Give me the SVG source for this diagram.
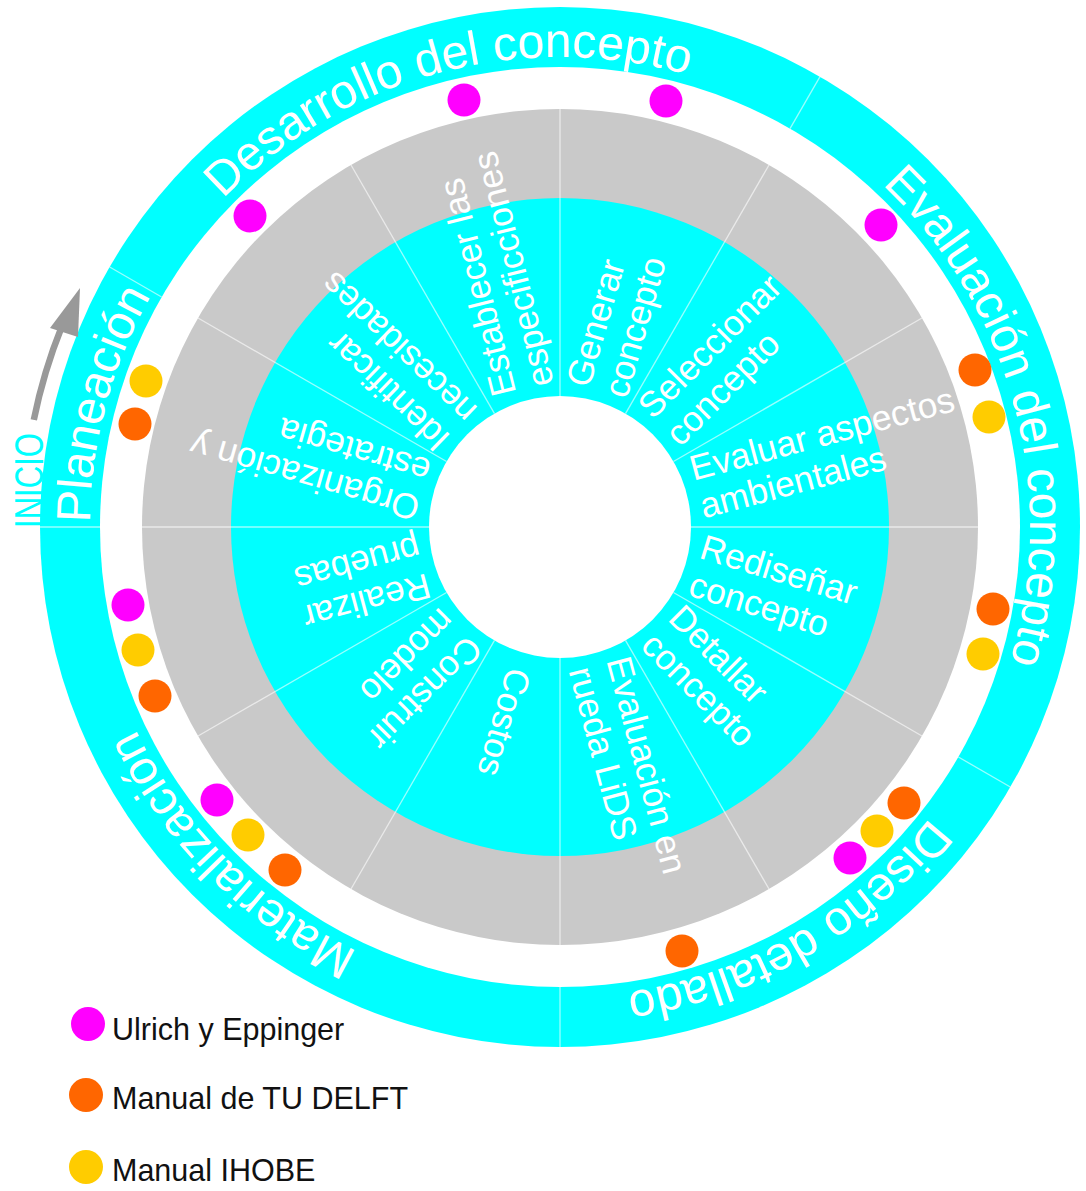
<svg xmlns="http://www.w3.org/2000/svg" width="1086" height="1191" viewBox="0 0 1086 1191">
<defs>
<style>
.ph{font-family:"Liberation Sans",Arial,sans-serif;font-size:48px;fill:#fff}
.st{font-family:"Liberation Sans",Arial,sans-serif;font-size:35.5px;fill:#fff}
.lg{font-family:"Liberation Sans",Arial,sans-serif;font-size:30.5px;fill:#111}
.dv{stroke:#fff;stroke-opacity:.6;stroke-width:1.3;fill:none}
.m{fill:#ff00ff}.o{fill:#ff6600}.y{fill:#ffcc00}
</style>
<path id="arcPlan" d="M97.1,608.6 A470,470 0 0 1 200.0,224.9"/>
<path id="arcDes" d="M118.3,366.3 A470,470 0 0 1 862.1,167.0"/>
<path id="arcEval" d="M720.7,85.3 A470,470 0 0 1 920.0,829.1"/>
<path id="arcDis" d="M1001.7,687.7 A470,470 0 0 1 478.4,989.9"/>
<path id="arcMat" d="M641.6,989.9 A470,470 0 0 1 97.1,445.4"/>
</defs>
<rect width="1086" height="1191" fill="#fff"/>
<g id="rings">
<circle cx="560" cy="527" r="520" fill="#00ffff"/>
<circle cx="560" cy="527" r="460" fill="#fff"/>
<circle cx="560" cy="527" r="418" fill="#c9c9c9"/>
<circle cx="560" cy="527" r="329" fill="#00ffff"/>
<circle cx="560" cy="527" r="131" fill="#fff"/>
</g>
<g id="connectors" transform="translate(560,527)" class="dv">
<line x1="0" y1="-131" x2="0" y2="-418" transform="rotate(0)"/>
<line x1="0" y1="-131" x2="0" y2="-418" transform="rotate(30)"/>
<line x1="0" y1="-131" x2="0" y2="-418" transform="rotate(60)"/>
<line x1="0" y1="-131" x2="0" y2="-418" transform="rotate(90)"/>
<line x1="0" y1="-131" x2="0" y2="-418" transform="rotate(120)"/>
<line x1="0" y1="-131" x2="0" y2="-418" transform="rotate(150)"/>
<line x1="0" y1="-131" x2="0" y2="-418" transform="rotate(180)"/>
<line x1="0" y1="-131" x2="0" y2="-418" transform="rotate(210)"/>
<line x1="0" y1="-131" x2="0" y2="-418" transform="rotate(240)"/>
<line x1="0" y1="-131" x2="0" y2="-418" transform="rotate(270)"/>
<line x1="0" y1="-131" x2="0" y2="-418" transform="rotate(300)"/>
<line x1="0" y1="-131" x2="0" y2="-418" transform="rotate(330)"/>
<line x1="0" y1="-460" x2="0" y2="-520" transform="rotate(270)"/>
<line x1="0" y1="-460" x2="0" y2="-520" transform="rotate(300)"/>
<line x1="0" y1="-460" x2="0" y2="-520" transform="rotate(30)"/>
<line x1="0" y1="-460" x2="0" y2="-520" transform="rotate(120)"/>
<line x1="0" y1="-460" x2="0" y2="-520" transform="rotate(180)"/>
</g>
<g id="phases" class="ph">
<text id="ph-planeacion"><textPath href="#arcPlan" startOffset="50%" text-anchor="middle">Planeación</textPath></text>
<text id="ph-desarrollo"><textPath href="#arcDes" startOffset="50%" text-anchor="middle">Desarrollo del concepto</textPath></text>
<text id="ph-evaluacion"><textPath href="#arcEval" startOffset="50%" text-anchor="middle">Evaluación del concepto</textPath></text>
<text id="ph-diseno"><textPath href="#arcDis" startOffset="50%" text-anchor="middle">Diseño detallado</textPath></text>
<text id="ph-materializacion"><textPath href="#arcMat" startOffset="50%" text-anchor="middle">Materialización</textPath></text>
</g>
<g id="steps" class="st" transform="translate(560,527)">
<g id="s-generar"><text transform="rotate(-74)"><tspan x="141" y="-10">Generar</tspan><tspan x="141" y="29">concepto</tspan></text></g>
<g id="s-seleccionar"><text transform="rotate(-45)"><tspan x="141" y="-10">Seleccionar</tspan><tspan x="141" y="29">concepto</tspan></text></g>
<g id="s-evaluar"><text transform="rotate(-15)"><tspan x="141" y="-10">Evaluar aspectos</tspan><tspan x="141" y="29">ambientales</tspan></text></g>
<g id="s-redisenar"><text transform="rotate(17)"><tspan x="141" y="-11">Rediseñar</tspan><tspan x="141" y="28">concepto</tspan></text></g>
<g id="s-detallar"><text transform="rotate(45)"><tspan x="141" y="-10">Detallar</tspan><tspan x="141" y="29">concepto</tspan></text></g>
<g id="s-lids"><text transform="rotate(75)"><tspan x="141" y="-10">Evaluación en</tspan><tspan x="141" y="29">rueda LiDS</tspan></text></g>
<g id="s-costos"><text transform="rotate(106)"><tspan x="148" y="12">Costos</tspan></text></g>
<g id="s-construir"><text transform="rotate(135)"><tspan x="141" y="-10">Construir</tspan><tspan x="141" y="29">modelo</tspan></text></g>
<g id="s-realizar"><text transform="rotate(165)"><tspan x="141" y="-10">Realizar</tspan><tspan x="141" y="29">pruebas</tspan></text></g>
<g id="s-organizacion"><text transform="rotate(196)"><tspan x="141" y="-10">Organización y</tspan><tspan x="141" y="29">estrategia</tspan></text></g>
<g id="s-identificar"><text transform="rotate(224)"><tspan x="141" y="-10">Identificar</tspan><tspan x="141" y="29">necesidades</tspan></text></g>
<g id="s-establecer"><text transform="rotate(256)"><tspan x="141" y="-10">Establecer las</tspan><tspan x="141" y="29">especificciones</tspan></text></g>
</g>
<g id="dots">
<circle class="m" cx="464" cy="100" r="16.5"/>
<circle class="m" cx="666" cy="101" r="16.5"/>
<circle class="m" cx="250" cy="216" r="16.5"/>
<circle class="m" cx="881" cy="225" r="16.5"/>
<circle class="m" cx="128" cy="605" r="16.5"/>
<circle class="m" cx="217" cy="800" r="16.5"/>
<circle class="o" cx="975" cy="370" r="16.5"/>
<circle class="o" cx="135" cy="424" r="16.5"/>
<circle class="o" cx="993" cy="609" r="16.5"/>
<circle class="o" cx="155" cy="696" r="16.5"/>
<circle class="o" cx="285" cy="870" r="16.5"/>
<circle class="o" cx="904" cy="803" r="16.5"/>
<circle class="o" cx="682" cy="951" r="16.5"/>
<circle class="y" cx="146" cy="381" r="16.5"/>
<circle class="y" cx="989" cy="417" r="16.5"/>
<circle class="y" cx="983" cy="654" r="16.5"/>
<circle class="y" cx="138" cy="650" r="16.5"/>
<circle class="y" cx="248" cy="835" r="16.5"/>
<circle class="y" cx="877" cy="831" r="16.5"/>
<circle class="m" cx="850" cy="858" r="16.5"/>
</g>
<g id="start">
<path d="M33.8,419.9 A537,537 0 0 1 62.1,325.8" fill="none" stroke="#999" stroke-width="6.5"/>
<polygon points="80,288 50,328 78,337" fill="#999"/>
<text transform="translate(43,528) rotate(-90)" font-family="Liberation Sans, Arial, sans-serif" font-size="41" fill="#00ffff" textLength="95" lengthAdjust="spacingAndGlyphs">INICIO</text>
</g>
<g id="legend">
<circle class="m" cx="88" cy="1024" r="17"/>
<text class="lg" x="112" y="1040">Ulrich y Eppinger</text>
<circle class="o" cx="86" cy="1095" r="17"/>
<text class="lg" x="112" y="1109">Manual de TU DELFT</text>
<circle class="y" cx="86" cy="1167" r="17"/>
<text class="lg" x="112" y="1181">Manual IHOBE</text>
</g>
</svg>
